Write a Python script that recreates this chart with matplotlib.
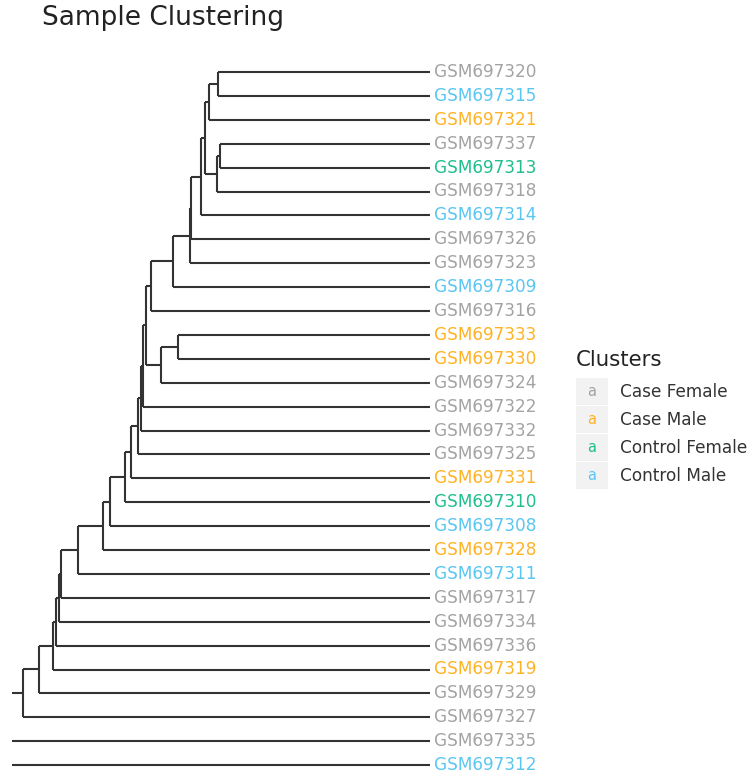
import matplotlib
matplotlib.use("Agg")
import matplotlib.pyplot as plt
from matplotlib.patches import Rectangle

# leaf order (top to bottom) and sample group
samples = ["GSM697320", "GSM697315", "GSM697321", "GSM697337", "GSM697313",
           "GSM697318", "GSM697314", "GSM697326", "GSM697323", "GSM697309",
           "GSM697316", "GSM697333", "GSM697330", "GSM697324", "GSM697322",
           "GSM697332", "GSM697325", "GSM697331", "GSM697310", "GSM697308",
           "GSM697328", "GSM697311", "GSM697317", "GSM697334", "GSM697336",
           "GSM697319", "GSM697329", "GSM697327", "GSM697335", "GSM697312"]
groups = ["Case Female", "Control Male", "Case Male", "Case Female", "Control Female",
          "Case Female", "Control Male", "Case Female", "Case Female", "Control Male",
          "Case Female", "Case Male", "Case Male", "Case Female", "Case Female",
          "Case Female", "Case Female", "Case Male", "Control Female", "Control Male",
          "Case Male", "Control Male", "Case Female", "Case Female", "Case Female",
          "Case Male", "Case Female", "Case Female", "Case Female", "Control Male"]

# merges: children are sample names or index of an earlier merge
merge_a = ["GSM697320", 0, "GSM697337", 2, 1, 4, 5, 6, 7, 8,
           "GSM697333", 10, 9, 12, 13, 14, 15, 16, 17, 18,
           19, 20, 21, 22, 23, 24, 25, 26, 27]
merge_b = ["GSM697315", "GSM697321", "GSM697313", "GSM697318", 3, "GSM697314",
           "GSM697326", "GSM697323", "GSM697309", "GSM697316",
           "GSM697330", "GSM697324", 11, "GSM697322", "GSM697332", "GSM697325",
           "GSM697331", "GSM697310", "GSM697308", "GSM697328",
           "GSM697311", "GSM697317", "GSM697334", "GSM697336", "GSM697319",
           "GSM697329", "GSM697327", "GSM697335", "GSM697312"]
merge_h = [21.17, 22.07, 21.0, 21.33, 22.45, 22.93, 23.87, 24.0, 25.7, 27.9,
           25.2, 26.9, 28.35, 28.65, 28.85, 29.15, 29.9, 30.5, 32.0, 32.7,
           35.2, 36.9, 37.07, 37.4, 37.73, 39.1, 40.7, 45.0, 47.0]

group_names = ["Case Female", "Case Male", "Control Female", "Control Male"]
group_colors = ["#A3A3A3", "#FFB324", "#1FBE8E", "#5AC6F2"]
col = dict(zip(group_names, group_colors))

fig = plt.figure(figsize=(7.55, 7.76), dpi=100)
W, H = 755, 776
top, step = 72, 23.9   # pixel row of first leaf and leaf spacing
ax = fig.add_axes([12 / W, 0, (430 - 12) / W, 1])
ax.set_xlim(41.8, 0)
ax.set_ylim((H - top) / step, -top / step)
ax.axis("off")

ypos = {s: i for i, s in enumerate(samples)}
hpos = {s: 0.0 for s in samples}
lc = "#333333"
lw = 1.5
for k, (a, b, h) in enumerate(zip(merge_a, merge_b, merge_h)):
    ya, yb = ypos[a], ypos[b]
    ax.plot([hpos[a], h], [ya, ya], color=lc, lw=lw, solid_capstyle="butt")
    ax.plot([hpos[b], h], [yb, yb], color=lc, lw=lw, solid_capstyle="butt")
    ax.plot([h, h], [ya, yb], color=lc, lw=lw, solid_capstyle="butt")
    ypos[k] = (ya + yb) / 2
    hpos[k] = h

for s, g in zip(samples, groups):
    ax.text(-0.4, ypos[s], s, color=col[g], fontsize=12.2, va="center", ha="left")

# title and legend in pixel coords
ov = fig.add_axes([0, 0, 1, 1])
ov.set_xlim(0, W)
ov.set_ylim(H, 0)
ov.axis("off")
ov.patch.set_alpha(0)
ov.text(42, 18, "Sample Clustering", fontsize=19, va="center", ha="left", color="#222222")
ov.text(576, 360, "Clusters", fontsize=15.3, va="center", ha="left", color="#222222")
for i, (g, c) in enumerate(zip(group_names, group_colors)):
    y0 = 378 + i * 28
    ov.add_patch(Rectangle((576, y0), 32, 27, facecolor="#F2F2F2", edgecolor="none"))
    ov.text(592, y0 + 14, "a", color=c, fontsize=10.5, va="center", ha="center")
    ov.text(620, y0 + 14, g, color="#333333", fontsize=12.2, va="center", ha="left")

fig.savefig("out.png", dpi=100)
